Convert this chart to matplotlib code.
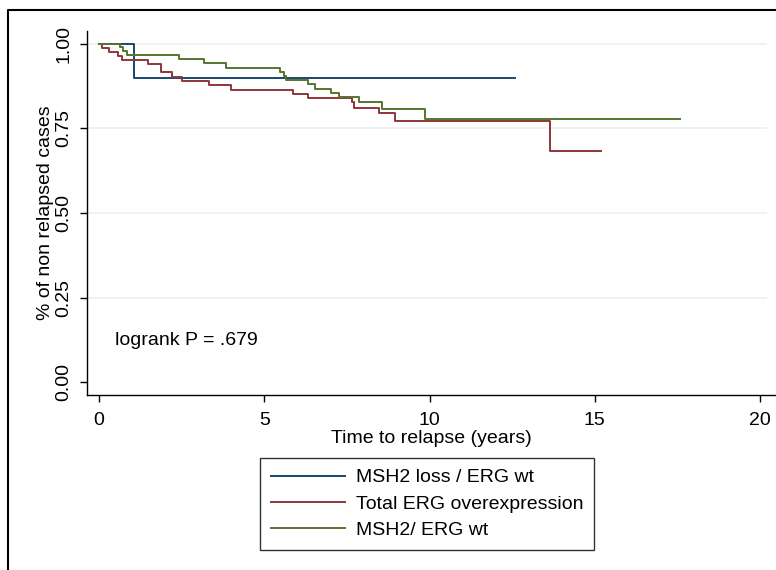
import numpy as np
import matplotlib.pyplot as plt
from matplotlib.lines import Line2D

plt.rcParams['font.family'] = ['Liberation Sans', 'DejaVu Sans']

# Kaplan-Meier step data (time in years, survival fraction)
msh2_t = [0, 1.06, 12.57]
msh2_s = [1.0, 0.90, 0.90]

erg_t = [0, 0.08, 0.31, 0.57, 0.69, 1.49, 1.88, 2.22, 2.50, 3.33, 4.00,
         5.86, 6.31, 7.66, 7.71, 8.47, 8.94, 13.64, 15.18]
erg_s = [1.0, 0.988, 0.976, 0.964, 0.952, 0.940, 0.916, 0.903, 0.890, 0.878, 0.865,
         0.853, 0.840, 0.827, 0.810, 0.795, 0.771, 0.684, 0.684]

wt_t = [0, 0.64, 0.74, 0.84, 2.43, 3.19, 3.84, 5.48, 5.59, 5.66, 6.33, 6.52,
        7.02, 7.27, 7.88, 8.57, 9.86, 17.58]
wt_s = [1.0, 0.992, 0.980, 0.966, 0.955, 0.942, 0.930, 0.918, 0.905, 0.893, 0.881, 0.868,
        0.856, 0.842, 0.827, 0.808, 0.779, 0.779]

labels = ["MSH2 loss / ERG wt", "Total ERG overexpression", "MSH2/ ERG wt"]
colors = ["#1a476f", "#90353b", "#55752f"]
x_ticks = [0, 5, 10, 15, 20]
y_ticks = [0.0, 0.25, 0.5, 0.75, 1.0]

fig = plt.figure(figsize=(7.76, 5.70), dpi=100)
ax = fig.add_axes([87 / 776, 1 - 395 / 570, 688 / 776, 364 / 570])

# light stata-ish grid
ax.hlines([0.25, 0.5, 0.75, 1.0], -0.36, 20.21, color="#eaf2f3", lw=1.3, zorder=0)

for t, s, c, lab in zip([msh2_t, erg_t, wt_t], [msh2_s, erg_s, wt_s], colors, labels):
    ax.step(t, s, where="post", color=c, lw=1.4, label=lab)

ax.set_xlim(-0.363, 20.45)
ax.set_ylim(-0.038, 1.038)
ax.set_xticks(x_ticks)
ax.set_yticks(y_ticks)
ax.set_yticklabels(["%.2f" % v for v in y_ticks], rotation=90, va="center")
ax.tick_params(length=5, width=1, labelsize=14)
ax.tick_params(axis="x", pad=7)
ax.tick_params(axis="y", pad=5.5)
for sp in ["top", "right"]:
    ax.spines[sp].set_visible(False)
for sp in ["left", "bottom"]:
    ax.spines[sp].set_linewidth(1)

ax.set_xlabel("Time to relapse (years)", fontsize=14, labelpad=1)
ax.set_ylabel("% of non relapsed cases", fontsize=14, labelpad=1)

ax.text(0.48, 0.124, "logrank P = .679", fontsize=14, va="center")

leg = fig.legend(loc="upper left", bbox_to_anchor=(260 / 776, 1 - 458 / 570),
                 fontsize=14, frameon=True, fancybox=False, edgecolor="black",
                 handlelength=3.8, handletextpad=0.6, labelspacing=0.45,
                 borderpad=0.55, borderaxespad=0)
leg.get_frame().set_linewidth(1)

# outer frame of the graph region (only left and top are in view)
fig.add_artist(Line2D([8 / 776, 8 / 776, 1], [0, 1 - 10 / 570, 1 - 10 / 570],
                      color="black", lw=1.5))

fig.savefig("out.png", dpi=100)
